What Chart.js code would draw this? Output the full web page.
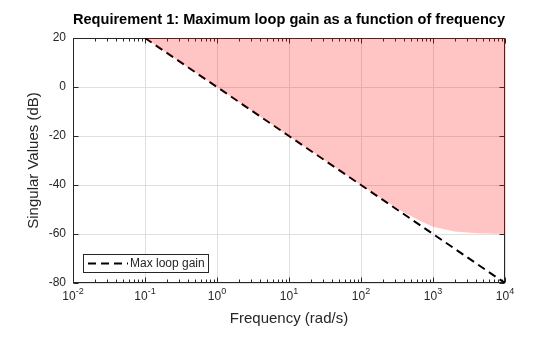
<!DOCTYPE html>
<html>
<head>
<meta charset="utf-8">
<script src="https://cdn.jsdelivr.net/npm/chart.js@4"></script>
<style>
  html, body { margin: 0; padding: 0; background: #fff; }
  #wrap { width: 560px; height: 337px; }
</style>
</head>
<body>
<div id="wrap"><canvas id="chart" width="560" height="337"></canvas></div>
<script>
// requirement line (dB vs rad/s)
const lineFreq = [0.1, 1, 10, 100, 1000, 10000];
const lineGain = [20, 0, -20, -40, -60, -80];

// shaded forbidden region lower edge
const boundFreq = [0.1, 1, 10, 30, 100, 200, 400, 700, 1000, 2000, 4000, 10000];
const boundGain = [20, 0, -20, -29.5, -40, -45.8, -51.3, -55, -57, -59, -59.7, -60];

const xDecades = [-2, -1, 0, 1, 2, 3, 4];
const yTicks = [-80, -60, -40, -20, 0, 20];

const TEXT = '#262626';
const FONT = 'Liberation Sans, Arial, sans-serif';

const framePlugin = {
  id: 'frame',
  beforeDatasetsDraw(chart) {
    const { ctx, chartArea: a, scales } = chart;
    const x = scales.x, y = scales.y;
    ctx.save();
    // grid
    ctx.strokeStyle = '#dfdfdf';
    ctx.lineWidth = 1;
    xDecades.forEach((d) => {
      const px = Math.round(x.getPixelForValue(Math.pow(10, d))) + 0.5;
      ctx.beginPath(); ctx.moveTo(px, a.top); ctx.lineTo(px, a.bottom); ctx.stroke();
    });
    yTicks.forEach((v) => {
      const py = Math.round(y.getPixelForValue(v)) + 0.5;
      ctx.beginPath(); ctx.moveTo(a.left, py); ctx.lineTo(a.right, py); ctx.stroke();
    });
    // box
    ctx.strokeStyle = TEXT;
    const L = Math.round(a.left) + 0.5, R = Math.round(a.right) - 0.5;
    const T = Math.round(a.top) + 0.5, B = Math.round(a.bottom) - 0.5;
    ctx.strokeRect(L, T, R - L, B - T);
    // ticks
    ctx.beginPath();
    xDecades.forEach((d) => {
      const px = Math.round(x.getPixelForValue(Math.pow(10, d))) + 0.5;
      ctx.moveTo(px, B); ctx.lineTo(px, B - 5);
      ctx.moveTo(px, T); ctx.lineTo(px, T + 5);
      if (d < 4) {
        for (let m = 2; m <= 9; m++) {
          const mx = Math.round(x.getPixelForValue(m * Math.pow(10, d))) + 0.5;
          ctx.moveTo(mx, B); ctx.lineTo(mx, B - 3);
          ctx.moveTo(mx, T); ctx.lineTo(mx, T + 3);
        }
      }
    });
    yTicks.forEach((v) => {
      const py = Math.round(y.getPixelForValue(v)) + 0.5;
      ctx.moveTo(L, py); ctx.lineTo(L + 5, py);
      ctx.moveTo(R, py); ctx.lineTo(R - 5, py);
    });
    ctx.stroke();
    ctx.restore();
  },
  afterDraw(chart) {
    const { ctx, chartArea: a, scales } = chart;
    const x = scales.x, y = scales.y;
    ctx.save();
    ctx.fillStyle = TEXT;
    // y tick labels
    ctx.font = '12px ' + FONT;
    ctx.textAlign = 'right';
    ctx.textBaseline = 'middle';
    yTicks.forEach((v) => {
      ctx.fillText(String(v), a.left - 7, y.getPixelForValue(v));
    });
    // x tick labels: 10 with superscript exponent
    ctx.textBaseline = 'alphabetic';
    ctx.textAlign = 'left';
    xDecades.forEach((d) => {
      const px = x.getPixelForValue(Math.pow(10, d));
      ctx.font = '12px ' + FONT;
      const wb = ctx.measureText('10').width;
      ctx.font = '9px ' + FONT;
      const exp = String(d);
      const we = ctx.measureText(exp).width;
      const x0 = px - (wb + we) / 2;
      ctx.font = '12px ' + FONT;
      ctx.fillText('10', x0, a.bottom + 17);
      ctx.font = '9px ' + FONT;
      ctx.fillText(exp, x0 + wb, a.bottom + 11);
    });
    // axis titles
    ctx.font = '15px ' + FONT;
    ctx.textAlign = 'center';
    ctx.fillText('Frequency (rad/s)', (a.left + a.right) / 2, 323);
    ctx.save();
    ctx.translate(38, (a.top + a.bottom) / 2);
    ctx.rotate(-Math.PI / 2);
    ctx.fillText('Singular Values (dB)', 0, 0);
    ctx.restore();
    // title
    ctx.fillStyle = '#000';
    ctx.font = 'bold 14.6px ' + FONT;
    ctx.fillText('Requirement 1: Maximum loop gain as a function of frequency', (a.left + a.right) / 2, 24);
    // legend
    const lx = 83, ly = 254, lw = 125, lh = 18;
    ctx.fillStyle = '#fff';
    ctx.fillRect(lx, ly, lw, lh);
    ctx.strokeStyle = TEXT;
    ctx.lineWidth = 1;
    ctx.strokeRect(lx + 0.5, ly + 0.5, lw, lh);
    ctx.strokeStyle = '#000';
    ctx.lineWidth = 2;
    ctx.setLineDash([8, 5]);
    ctx.beginPath(); ctx.moveTo(88, ly + 9.5); ctx.lineTo(128, ly + 9.5); ctx.stroke();
    ctx.setLineDash([]);
    ctx.fillStyle = TEXT;
    ctx.font = '12px ' + FONT;
    ctx.textAlign = 'left';
    ctx.textBaseline = 'middle';
    ctx.fillText('Max loop gain', 130, ly + 10);
    ctx.restore();
  }
};

new Chart(document.getElementById('chart'), {
  type: 'line',
  data: {
    datasets: [
      {
        label: 'Requirement region',
        data: boundFreq.map((f, i) => ({ x: f, y: boundGain[i] })),
        borderWidth: 0,
        borderColor: 'rgba(0,0,0,0)',
        backgroundColor: 'rgba(255,0,0,0.23)',
        pointRadius: 0,
        fill: 'end',
        order: 0,
      },
      {
        label: 'Max loop gain',
        data: lineFreq.map((f, i) => ({ x: f, y: lineGain[i] })),
        borderColor: '#000',
        borderWidth: 2,
        borderDash: [8, 5],
        pointRadius: 0,
        fill: false,
        order: 1,
      },
    ],
  },
  options: {
    responsive: false,
    animation: false,
    layout: { padding: { top: 38, right: 55, left: 0, bottom: 0 } },
    plugins: { legend: { display: false }, title: { display: false }, tooltip: { enabled: false } },
    scales: {
      x: {
        type: 'logarithmic',
        min: 0.01,
        max: 10000,
        grid: { display: false },
        border: { display: false },
        ticks: { display: false },
        afterFit: (s) => { s.height = 54; },
      },
      y: {
        min: -80,
        max: 20,
        grid: { display: false },
        border: { display: false },
        ticks: { display: false },
        afterFit: (s) => { s.width = 73; },
      },
    },
  },
  plugins: [framePlugin],
});
</script>
</body>
</html>
